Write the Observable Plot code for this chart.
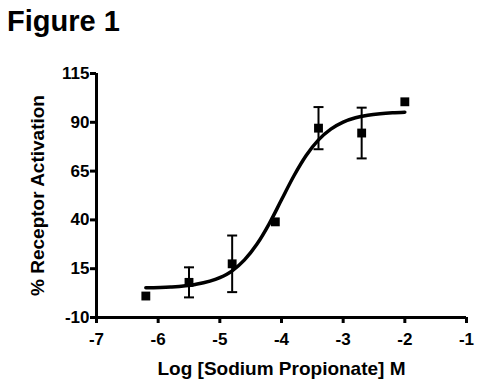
<!DOCTYPE html>
<html><head><meta charset="utf-8">
<script src="https://cdn.jsdelivr.net/npm/d3@7"></script>
<script src="https://cdn.jsdelivr.net/npm/@observablehq/plot@0.6"></script>
<style>
body{margin:0;background:#fff;font-family:"Liberation Sans",Arial,sans-serif;}
#title{height:48px;font-weight:bold;font-size:29px;line-height:1;padding:7px 0 0 7px;box-sizing:border-box;color:#000;}
#chart svg{display:block;}
g[aria-label="x-axis label"] text, g[aria-label="y-axis label"] text{font-size:19px;}
</style></head><body>
<div id="title">Figure 1</div>
<div id="chart"></div>
<script>
// Measured points
const logConc = [-6.2, -5.5, -4.8, -4.1, -3.4, -2.7, -2.0];
const activation = [1, 8, 17.5, 39, 87, 84.5, 100.5];
const sem = [null, 7.7, 14.5, null, 10.8, 13, null];
// Fitted curve
const curveX = [-6.2, -5.8, -5.4, -5.0, -4.8, -4.6, -4.4, -4.2, -4.0, -3.8, -3.6, -3.4, -3.2, -3.0, -2.8, -2.6, -2.4, -2.2, -2.0];
const curveY = [5.2, 5.6, 6.9, 10.4, 13.9, 19.5, 27.5, 38, 50.3, 62.5, 73, 81, 86.5, 90.1, 92.3, 93.6, 94.4, 94.9, 95.2];
// Ticks
const xTicks = [-7, -6, -5, -4, -3, -2, -1];
const yTicks = [-10, 15, 40, 65, 90, 115];
const xLabel = "Log [Sodium Propionate] M";
const yLabel = "% Receptor Activation";

const points = logConc.map((x, i) => ({x, y: activation[i], e: sem[i]}));
const errs = points.filter(d => d.e != null);
const curve = curveX.map((x, i) => ({x, y: curveY[i]}));

const cap = {draw(ctx, size){const w = Math.sqrt(size / Math.PI); ctx.moveTo(-w, 0); ctx.lineTo(w, 0);}};
const fmt = d => String(d);

const chart = Plot.plot({
  width: 484, height: 340,
  marginLeft: 96, marginRight: 18, marginTop: 25, marginBottom: 71,
  style: {fontFamily: "'Liberation Sans', Arial, sans-serif", fontWeight: "bold", fontSize: "17px", color: "#000", background: "#fff"},
  x: {domain: [-7, -1]},
  y: {domain: [-10, 115]},
  marks: [
    Plot.axisX({ticks: xTicks, tickFormat: fmt, tickSize: 6, strokeWidth: 3, tickPadding: 9, fontSize: 17, fontWeight: "bold",
      label: xLabel, labelAnchor: "center", labelOffset: 57, labelArrow: "none"}),
    Plot.axisY({ticks: yTicks, tickFormat: fmt, tickSize: 6, strokeWidth: 3, tickPadding: 1, fontSize: 17, fontWeight: "bold",
      label: yLabel, labelAnchor: "center", labelOffset: 66, labelArrow: "none"}),
    Plot.ruleY([-10], {strokeWidth: 3, stroke: "#000"}),
    Plot.ruleX([-7], {strokeWidth: 3, stroke: "#000"}),
    Plot.line(curve, {x: "x", y: "y", curve: "monotone-x", strokeWidth: 3.5, stroke: "#000"}),
    Plot.ruleX(errs, {x: "x", y1: d => d.y - d.e, y2: d => d.y + d.e, strokeWidth: 2, stroke: "#000"}),
    Plot.dot(errs, {x: "x", y: d => d.y - d.e, symbol: cap, r: 5, stroke: "#000", strokeWidth: 2}),
    Plot.dot(errs, {x: "x", y: d => d.y + d.e, symbol: cap, r: 5, stroke: "#000", strokeWidth: 2}),
    Plot.dot(points, {x: "x", y: "y", symbol: "square", r: 5, fill: "#000", stroke: "none"})
  ]
});
document.getElementById("chart").appendChild(chart);
</script>
</body></html>
